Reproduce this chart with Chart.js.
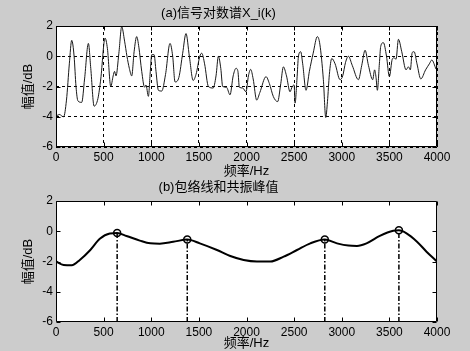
<!DOCTYPE html>
<html><head><meta charset="utf-8">
<script src="https://cdn.jsdelivr.net/npm/chart.js@4.4.0/dist/chart.umd.min.js"></script>
<style>
html,body{margin:0;padding:0;background:#cccccc;width:470px;height:351px;overflow:hidden}
#c1{position:absolute;left:0;top:0}
#c2{position:absolute;left:0;top:176px}
</style></head><body>
<canvas id="c1" width="470" height="180" style="width:470px;height:180px"></canvas>
<canvas id="c2" width="470" height="175" style="width:470px;height:175px"></canvas>
<script>
const spectrumFreq = [0,40,60,80,110,140,165,190,210,230,270,300,340,365,400,440,470,515,540,575,600,615,630,660,690,720,745,770,795,820,847,870,900,930,945,970,990,1005,1030,1050,1075,1110,1150,1197,1225,1250,1290,1330,1365,1400,1440,1470,1510,1530,1560,1600,1650,1680,1705,1730,1750,1790,1827,1860,1890,1910,1925,1960,1995,2020,2044,2070,2107,2140,2205,2240,2282,2327,2360,2387,2420,2457,2480,2500,2510,2530,2545,2569,2590,2625,2660,2700,2744,2770,2807,2832,2850,2870,2895,2930,2982,3010,3040,3070,3110,3175,3210,3245,3280,3325,3345,3360,3374,3395,3409,3437,3470,3500,3530,3550,3570,3595,3630,3675,3700,3720,3740,3760,3790,3830,3880,3920,3945,3990];
const spectrumDb = [-3.95,-3.85,-3.95,-4.0,-2.9,-0.5,1.05,0.0,-2.0,-2.95,-3.05,-1.5,0.85,-0.8,-3.3,-2.8,-1.5,1.2,0.5,-2.0,-1.3,-1.0,-1.3,0.2,1.95,1.0,0.0,-0.8,-1.3,0.3,1.3,0.6,-1.0,-2.05,-1.9,-2.65,-1.0,0.1,0.1,-1.0,-2.25,-2.3,-1.2,0.85,0.0,-1.7,-1.4,0.2,1.5,0.0,-1.6,-1.2,0.0,0.2,-0.5,-2.0,-2.1,-1.3,0.0,-0.8,-2.0,-2.05,-2.55,-1.3,-0.8,-1.0,-2.05,-2.1,-2.35,-1.3,-0.87,-1.5,-2.9,-2.4,-1.35,-1.8,-2.67,-3.0,-1.8,-0.7,-1.3,-2.35,-2.0,-1.9,-3.1,-1.5,-0.03,0.3,-0.5,-2.25,-1.0,0.2,1.3,0.8,-1.55,-4.05,-3.0,-1.2,-0.15,-0.5,-1.55,-1.3,-0.4,0.0,-0.6,-1.55,-0.6,0.4,-0.6,-1.55,-0.9,-1.4,-2.25,-0.5,0.65,0.9,0.0,-1.35,-0.2,-0.1,-0.2,1.12,0.3,-0.9,-0.7,-0.9,0.25,0.3,-0.5,-1.5,-0.9,-0.5,-0.25,-0.85];
const envelopeFreq = [0,80,165,250,360,460,565,642,740,880,990,1090,1230,1378,1510,1690,1830,1970,2110,2250,2390,2530,2670,2822,2950,3070,3160,3260,3400,3540,3600,3680,3790,3890,4000];
const envelopeDb = [-2.0,-2.23,-2.25,-1.9,-1.24,-0.5,-0.15,-0.12,-0.31,-0.62,-0.8,-0.82,-0.7,-0.55,-0.8,-1.24,-1.64,-1.9,-2.0,-2.0,-1.68,-1.24,-0.8,-0.55,-0.8,-0.95,-0.97,-0.8,-0.31,0.03,0.06,-0.14,-0.69,-1.35,-2.0];
const peakFreq = [642,1378,2822,3600];
const peakDb = [-0.12,-0.55,-0.55,0.06];
const xTicks = [0,500,1000,1500,2000,2500,3000,3500,4000];
const yTicks = [-6,-4,-2,0,2];
const titleA = '(a)信号对数谱X_i(k)';
const titleB = '(b)包络线和共振峰值';
const xLabel = '频率/Hz';
const yLabel = '幅值/dB';

const FONT = "'Liberation Sans', 'Noto Sans CJK SC', sans-serif";

const framePlugin = {
  id: 'frame',
  beforeDraw(chart) {
    const {ctx, chartArea: a} = chart;
    ctx.save();
    ctx.fillStyle = '#ffffff';
    ctx.fillRect(a.left, a.top, a.right - a.left, a.bottom - a.top);
    ctx.restore();
  },
  afterDraw(chart) {
    const {ctx, chartArea: a, scales} = chart;
    const L = Math.round(a.left) + 0.5, R = Math.round(a.right) - 0.5;
    const T = Math.round(a.top) + 0.5, B = Math.round(a.bottom) - 0.5;
    ctx.save();
    ctx.setLineDash([]);
    ctx.strokeStyle = '#000';
    ctx.lineWidth = 1;
    ctx.beginPath();
    ctx.rect(L, T, R - L, B - T);
    const tl = 4;
    xTicks.forEach(v => {
      const px = Math.round(scales.x.getPixelForValue(v)) + 0.5;
      ctx.moveTo(px, B); ctx.lineTo(px, B - tl);
      ctx.moveTo(px, T); ctx.lineTo(px, T + tl);
    });
    yTicks.forEach(v => {
      const py = Math.round(scales.y.getPixelForValue(v)) + 0.5;
      ctx.moveTo(L, py); ctx.lineTo(L + tl, py);
      ctx.moveTo(R, py); ctx.lineTo(R - tl, py);
    });
    ctx.stroke();
    ctx.restore();
  }
};

function makeOptions(titleText, showGrid, titlePad, xAxisH, xTitlePad) {
  return {
    responsive: false,
    animation: false,
    layout: {padding: {left: 0, right: 33, top: 0, bottom: 0}},
    plugins: {
      legend: {display: false},
      tooltip: {enabled: false},
      title: {display: true, text: titleText, color: '#000',
        font: {family: FONT, size: 13, weight: 'normal'}, padding: titlePad}
    },
    scales: {
      x: {
        type: 'linear', min: 0, max: 4000,
        afterBuildTicks: s => { s.ticks = xTicks.map(v => ({value: v})); },
        afterFit: s => { s.height = xAxisH; },
        ticks: {color: '#000', font: {family: FONT, size: 12}, padding: 3, maxRotation: 0, autoSkip: false,
          callback: v => String(v)},
        grid: {display: showGrid, color: '#000', lineWidth: 1, drawTicks: false},
        border: {display: false, dash: [3, 3]},
        title: {display: true, text: xLabel, color: '#000',
          font: {family: FONT, size: 13, weight: 'normal'}, padding: {top: 0, bottom: xTitlePad}}
      },
      y: {
        type: 'linear', min: -6, max: 2,
        afterBuildTicks: s => { s.ticks = yTicks.map(v => ({value: v})); },
        afterFit: s => { s.width = 56; },
        ticks: {color: '#000', font: {family: FONT, size: 12}, padding: 3, callback: v => String(v)},
        grid: {display: showGrid, color: '#000', lineWidth: 1, drawTicks: false},
        border: {display: false, dash: [3, 3]},
        title: {display: true, text: yLabel, color: '#000',
          font: {family: FONT, size: 13, weight: 'normal'}, padding: {top: 20.5, bottom: 0}}
      }
    }
  };
}

new Chart(document.getElementById('c1'), {
  type: 'scatter',
  data: {
    datasets: [{
      data: spectrumFreq.map((f, i) => ({x: f, y: spectrumDb[i]})),
      showLine: true, borderColor: '#1a1a1a', borderWidth: 1, pointRadius: 0,
      cubicInterpolationMode: 'monotone', fill: false
    }]
  },
  options: makeOptions(titleA, true, {top: 5.2, bottom: 5.2}, 33, 1.2),
  plugins: [framePlugin]
});

const stemSets = peakFreq.map((f, i) => ({
  data: [{x: f, y: -6}, {x: f, y: peakDb[i]}],
  showLine: true, borderColor: '#000', borderWidth: 1.5, pointRadius: 0,
  borderDash: [5, 2, 1.5, 2], fill: false
}));

new Chart(document.getElementById('c2'), {
  type: 'scatter',
  data: {
    datasets: [
      {
        data: envelopeFreq.map((f, i) => ({x: f, y: envelopeDb[i]})),
        showLine: true, borderColor: '#000', borderWidth: 2, pointRadius: 0,
        cubicInterpolationMode: 'monotone', fill: false
      },
      ...stemSets,
      {
        data: peakFreq.map((f, i) => ({x: f, y: peakDb[i]})),
        showLine: false, pointRadius: 3.5, pointStyle: 'circle',
        pointBorderColor: '#000', pointBackgroundColor: 'rgba(0,0,0,0)', pointBorderWidth: 1.5
      }
    ]
  },
  options: makeOptions(titleB, false, {top: 3.2, bottom: 6.2}, 29, 0.2),
  plugins: [framePlugin]
});
</script>
</body></html>
